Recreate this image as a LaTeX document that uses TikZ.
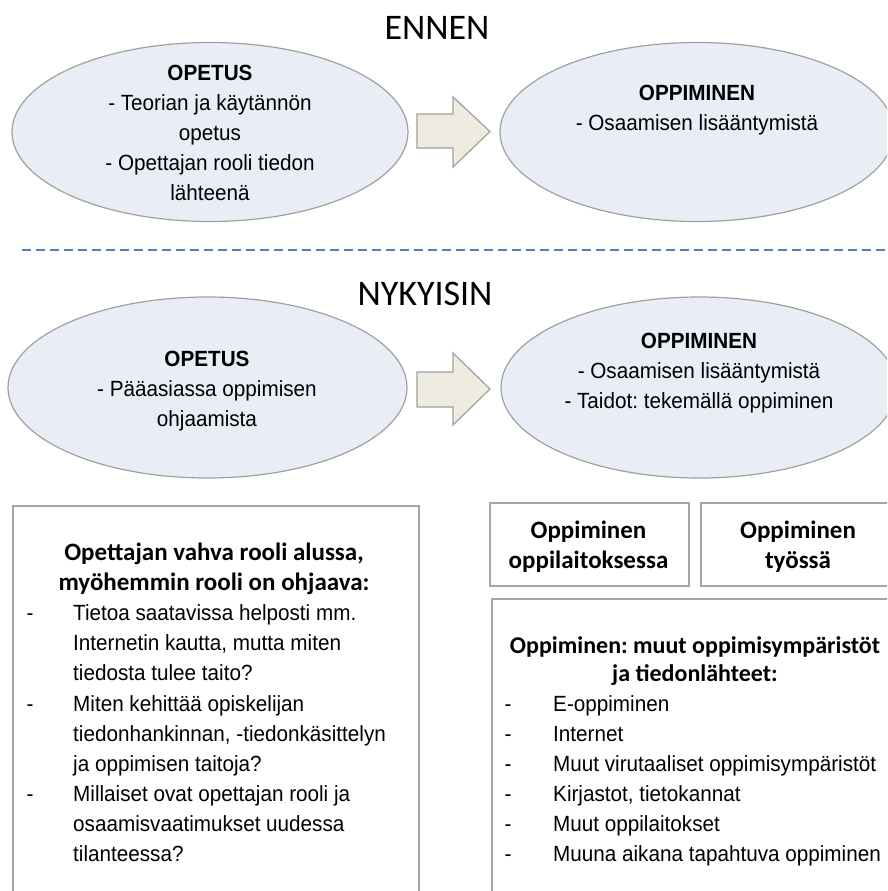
\documentclass[tikz,border=0pt]{standalone}
\usepackage{fontspec}
\setmainfont{Liberation Sans}[FakeStretch=0.94]
\newfontfamily\calfont{Carlito}
\usetikzlibrary{shapes.geometric}
\definecolor{ellfill}{HTML}{E9EEF6}
\definecolor{ellline}{HTML}{A0A0A0}
\definecolor{arrfill}{HTML}{EEECE1}
\definecolor{dashblue}{HTML}{4F81BD}
\definecolor{boxline}{HTML}{A6A6A6}
\frenchspacing
\begin{document}
\begin{tikzpicture}[x=1pt,y=-1pt,
  ell/.style={ellipse, draw=ellline, line width=1.2pt, fill=ellfill, inner sep=0pt},
  arrowshape/.style={draw=ellline, line width=1.2pt, fill=arrfill, line join=miter},
  box/.style={draw=boxline, line width=1.5pt, fill=white, inner sep=0pt},
  title/.style={font=\calfont\fontsize{36}{40}\selectfont, anchor=base, inner sep=0pt},
  etext/.style={font=\fontsize{22}{30}\selectfont, align=center, anchor=base, inner sep=0pt},
  bhead/.style={font=\calfont\bfseries\fontsize{25}{30}\selectfont, align=center, anchor=base, inner sep=0pt},
  itemtext/.style={font=\fontsize{22}{30}\selectfont, align=left, anchor=base west, inner sep=0pt},
  dashmark/.style={font=\fontsize{22}{30}\selectfont, anchor=base, inner sep=0pt},
]
\path[use as bounding box] (0,0) rectangle (887,891);
\clip (0,0) rectangle (887,891);

% ENNEN
\node[title] (t1) at (437,40) {ENNEN};
\node[ell, minimum width=396pt, minimum height=179pt] (e1) at (210,132) {};
\node[ell, minimum width=394pt, minimum height=179pt] (e2) at (697,132) {};
\node[etext] (e1t) at (210,200) {\textbf{OPETUS}\\- Teorian ja käytännön\\opetus\\- Opettajan rooli tiedon\\lähteenä};
\node[etext] (e2t) at (697,130) {\textbf{OPPIMINEN}\\- Osaamisen lisääntymistä};
\draw[arrowshape] (417,114) -- (453,114) -- (453,97) -- (490,131.5) -- (453,167) -- (453,148) -- (417,148) -- cycle;

% dashed separator
\coordinate (dl) at (22,250);
\coordinate (dr) at (887,250);
\draw[dashblue, line width=1.2pt, dash pattern=on 9pt off 5pt] (dl) -- (dr);

% NYKYISIN
\node[title] (t2) at (425,305) {NYKYISIN};
\node[ell, minimum width=399pt, minimum height=181pt] (e3) at (207.5,387.5) {};
\node[ell, minimum width=396pt, minimum height=181pt] (e4) at (699,387.5) {};
\node[etext] (e3t) at (207,426) {\textbf{OPETUS}\\- Pääasiassa oppimisen\\ohjaamista};
\node[etext] (e4t) at (699,408) {\textbf{OPPIMINEN}\\- Osaamisen lisääntymistä\\- Taidot: tekemällä oppiminen};
\draw[arrowshape] (417,372) -- (453,372) -- (453,353) -- (490,389) -- (453,425) -- (453,407) -- (417,407) -- cycle;

% left box
\node[box, minimum width=406pt, minimum height=400pt, anchor=north west] (lb) at (12,505) {};
\node[bhead] (lbh) at (214,590) {Opettajan vahva rooli alussa,\\myöhemmin rooli on ohjaava:};
\node[dashmark] (ld1) at (30,620) {-};
\node[itemtext] (li1) at (73,680) {Tietoa saatavissa helposti mm.\\Internetin kautta, mutta miten\\tiedosta tulee taito?};
\node[dashmark] (ld2) at (30,711) {-};
\node[itemtext] (li2) at (73,771) {Miten kehittää opiskelijan\\tiedonhankinnan, -tiedonkäsittelyn\\ja oppimisen taitoja?};
\node[dashmark] (ld3) at (30,801) {-};
\node[itemtext] (li3) at (73,861) {Millaiset ovat opettajan rooli ja\\osaamisvaatimukset uudessa\\tilanteessa?};

% small boxes
\node[box, minimum width=199pt, minimum height=83pt, anchor=north west] (sb1) at (489,502) {};
\node[bhead] (sb1t) at (588.5,568) {Oppiminen\\oppilaitoksessa};
\node[box, minimum width=196pt, minimum height=83pt, anchor=north west] (sb2) at (700,502) {};
\node[bhead] (sb2t) at (798,568) {Oppiminen\\työssä};

% right box
\node[box, minimum width=410pt, minimum height=400pt, anchor=north west] (rb) at (491,598) {};
\node[bhead, font=\calfont\bfseries\fontsize{24}{28}\selectfont] (rbh) at (695,681) {Oppiminen: muut oppimisympäristöt\\ja tiedonlähteet:};
\foreach \n/\y/\t in {1/711/E-oppiminen, 2/741/Internet, 3/771/Muut virutaaliset oppimisympäristöt, 4/801/{Kirjastot, tietokannat}, 5/831/Muut oppilaitokset, 6/861/Muuna aikana tapahtuva oppiminen}{
  \node[dashmark] (rd\n) at (508,\y) {-};
  \node[itemtext] (ri\n) at (553,\y) {\t};
}
\end{tikzpicture}
\end{document}
